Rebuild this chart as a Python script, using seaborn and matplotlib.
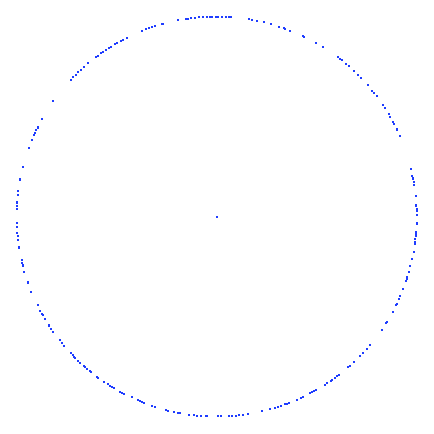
import numpy as np
import pandas as pd
import matplotlib
matplotlib.use("Agg")
import matplotlib.pyplot as plt
import seaborn as sns

angulos_q1 = [0.5, 1.7, 2.2, 3.1, 3.3, 5.8, 9.1, 9.9, 10.9, 11.2, 11.8, 13.8,
              23.6, 25.7, 25.9, 27.6, 28.1, 29.8, 30.7, 32.8, 33.9, 36.9, 38.2,
              39.0, 41.0, 43.8, 45.0, 46.8, 48.6, 49.7, 51.3, 52.1, 52.8, 58.0,
              60.3, 64.0, 64.5, 68.4, 70.0, 70.3, 71.8, 74.2, 76.4, 78.3, 79.8,
              80.6, 85.8, 86.5, 87.4, 88.6, 89.6]
angulos_q2 = [90.2, 91.3, 91.9, 92.7, 93.8, 95.1, 96.1, 97.4, 98.2, 98.9, 101.1,
              105.5, 106.0, 107.9, 109.0, 109.9, 110.7, 111.8, 116.7, 117.8,
              118.5, 119.8, 120.6, 121.9, 122.7, 123.6, 124.5, 125.3, 126.5,
              127.2, 130.0, 131.7, 132.8, 133.9, 134.8, 135.8, 136.9, 144.7,
              150.7, 153.3, 153.6, 154.4, 155.2, 155.9, 157.5, 160.1, 165.6,
              169.2, 169.6, 172.7, 173.7, 175.8, 176.2, 176.9, 177.9]
angulos_q3 = [181.9, 183.0, 184.6, 185.7, 186.7, 188.8, 189.1, 192.6, 193.4,
              193.9, 194.3, 196.0, 199.2, 199.5, 202.1, 206.4, 208.2, 209.1,
              209.6, 210.9, 212.8, 213.2, 214.1, 215.2, 218.3, 219.3, 220.2,
              223.2, 223.9, 224.5, 224.9, 226.1, 227.0, 228.4, 228.9, 229.6,
              230.7, 231.1, 233.2, 233.7, 235.6, 237.0, 237.8, 238.3, 239.2,
              241.2, 241.7, 242.3, 244.8, 246.7, 247.4, 248.2, 248.8, 251.0,
              251.9, 255.2, 256.0, 257.6, 258.8, 259.3, 262.1, 263.5, 264.3,
              265.4, 266.8, 267.1]
angulos_q4 = [270.4, 271.2, 273.4, 274.4, 275.5, 276.5, 277.5, 279.0, 283.2,
              285.5, 287.0, 287.8, 288.7, 290.1, 290.6, 291.1, 293.7, 294.9,
              295.7, 297.8, 298.5, 299.0, 299.7, 302.7, 303.5, 304.8, 305.3,
              306.3, 307.0, 307.7, 311.0, 311.8, 313.4, 315.8, 317.1, 318.6,
              320.2, 325.5, 327.7, 328.3, 331.6, 333.6, 334.2, 335.7, 336.7,
              338.7, 338.8, 341.2, 341.8, 342.5, 343.8, 345.6, 347.8, 349.8,
              352.1, 352.8, 353.5, 354.3, 355.1, 355.6, 357.9, 358.1]
radio = 1.0

# el punto del centro
centro_x = [0.0]
centro_y = [0.0]

angulos = np.radians(angulos_q1 + angulos_q2 + angulos_q3 + angulos_q4)
df = pd.DataFrame({'x': radio * np.cos(angulos), 'y': radio * np.sin(angulos)})
df = pd.concat([df, pd.DataFrame({'x': centro_x, 'y': centro_y})], ignore_index=True)

fig = plt.figure(figsize=(4.34, 4.34), dpi=100)
ax = fig.add_axes([0, 0, 1, 1])
sns.scatterplot(x='x', y='y', data=df, ax=ax, s=4, color='#1f3dff',
                linewidth=0, marker='s')
ax.set_xlim(-1.0835, 1.0865)
ax.set_ylim(-1.0875, 1.0825)
ax.set_aspect('equal')
ax.axis('off')

plt.savefig('out.png', dpi=100)
